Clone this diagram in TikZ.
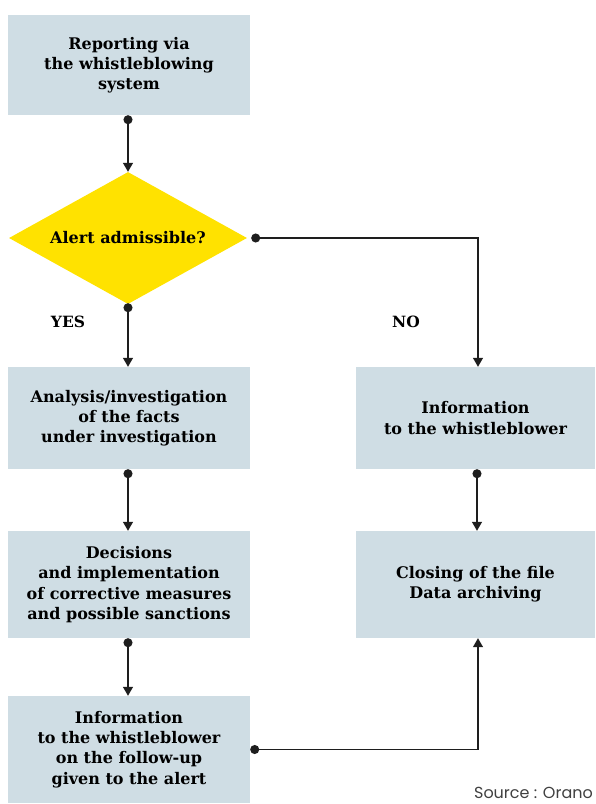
\documentclass[tikz,border=0pt]{standalone}
\usepackage{fontspec}
\setmainfont{DejaVu Serif}
\newfontfamily\srcfont{Poppins}
\usetikzlibrary{arrows.meta,shapes.geometric}
\definecolor{boxc}{HTML}{CFDDE4}
\definecolor{yel}{HTML}{FFE200}
\definecolor{linec}{HTML}{1E1E1E}
\begin{document}
\begin{tikzpicture}[x=1pt,y=-1pt,
  every node/.style={font=\bfseries\fontsize{16}{20.3}\selectfont, text=black},
  stepbox/.style={fill=boxc, align=center, inner sep=0pt, minimum width=242pt},
  rbox/.style={fill=boxc, align=center, inner sep=0pt, minimum width=239pt},
  decide/.style={diamond, fill=yel, inner sep=0pt, minimum width=238pt, minimum height=132pt, aspect=1.8},
  lab/.style={font=\bfseries\fontsize{15.5}{18}\selectfont},
  conn/.style={draw=linec, line width=1.2pt, {Circle[length=9pt,width=9pt]}-{Triangle[length=9pt,width=10pt]}}]
\useasboundingbox (0,0) rectangle (595,804);
\node[stepbox, minimum height=100pt] (b1) at (129,65) {Reporting via\\the whistleblowing\\system};
\node[decide] (d) at (128,238) {Alert admissible?};
\node[stepbox, minimum height=102pt] (b2) at (129,418) {Analysis/investigation\\of the facts\\under investigation};
\node[rbox, minimum height=102pt] (r1) at (475.5,418) {Information\\to the whistleblower};
\node[stepbox, minimum height=107pt] (b3) at (129,584.5) {Decisions\\and implementation\\of corrective measures\\and possible sanctions};
\node[rbox, minimum height=107pt] (r2) at (475.5,584.5) {Closing of the file\\Data archiving};
\node[stepbox, minimum height=107pt] (b4) at (129,749.5) {Information\\to the whistleblower\\on the follow-up\\given to the alert};
\node[lab] (yes) at (68,322) {YES};
\node[lab] (no) at (406,322) {NO};
\node[anchor=east, inner sep=0pt, font=\srcfont\fontsize{16}{17}\selectfont, text=black!75] (src) at (593,793) {Source : Orano};
\draw[conn] ([xshift=-1pt]b1.south) -- ([xshift=-1pt]b1.south |- d.north);
\draw[conn] ([xshift=4pt]d.east) -| ([xshift=2.5pt]r1.north);
\draw[conn] ([yshift=1pt]d.south) -- ([xshift=-1pt]b2.north);
\draw[conn] ([xshift=-1pt]b2.south) -- ([xshift=-1pt]b3.north);
\draw[conn] ([xshift=1.5pt]r1.south) -- ([xshift=1.5pt]r2.north);
\draw[conn] ([xshift=-1pt]b3.south) -- ([xshift=-1pt]b4.north);
\draw[conn] (b4.east) -| ([xshift=2.5pt]r2.south);
\end{tikzpicture}
\end{document}
